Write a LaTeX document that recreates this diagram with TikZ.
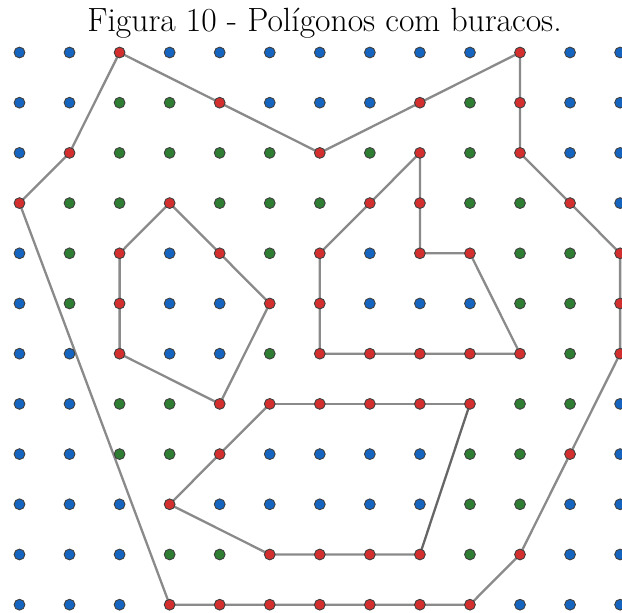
\documentclass[tikz,border=0pt]{standalone}
\usetikzlibrary{backgrounds}
\definecolor{dotB}{HTML}{1565C0}
\definecolor{dotG}{HTML}{2E7D32}
\definecolor{dotR}{HTML}{D32F2F}
\definecolor{edgegray}{HTML}{8A8A8A}
\definecolor{edgedark}{HTML}{666666}
\begin{document}
\begin{tikzpicture}[x=0.5pt,y=-0.5pt,
  dot/.style={circle,inner sep=0pt,minimum size=5.4pt,draw=black!75,line width=0.45pt},
  edge/.style={draw=edgegray,line width=1.15pt,line join=round},
  title/.style={font=\fontsize{16.8}{20}\selectfont,anchor=base,inner sep=0pt}]
\useasboundingbox (0,0) rectangle (622,613);
\node[title] (t) at (324.5,31.5) {Figura 10 - Polígonos com buracos.};
\foreach \r/\row in {
  0/{B,B,R,B,B,B,B,B,B,B,R,B,B},
  1/{B,B,G,G,R,B,B,B,R,G,R,B,B},
  2/{B,R,G,G,G,G,R,G,R,G,R,B,B},
  3/{R,G,G,R,G,G,G,R,R,G,G,R,B},
  4/{B,G,R,B,R,G,R,B,R,R,G,G,R},
  5/{B,G,R,B,B,R,R,B,B,B,G,G,R},
  6/{B,B,R,B,B,G,R,R,R,R,R,G,R},
  7/{B,B,G,G,R,R,R,R,R,R,G,G,B},
  8/{B,B,G,G,R,B,B,B,B,G,G,R,B},
  9/{B,B,B,R,B,B,B,B,B,G,G,B,B},
  10/{B,B,B,G,G,R,R,R,R,G,R,B,B},
  11/{B,B,B,R,R,R,R,R,R,R,B,B,B}}{
  \foreach \col [count=\c from 0] in \row {
    \node[dot,fill=dot\col] (d-\c-\r) at ({19.5+50.05*\c},{52.5+50.2*\r}) {};
  }
}
\begin{scope}[on background layer]
% outer polygon
\draw[edge] (d-2-0.center) -- (d-4-1.center) -- (d-6-2.center) -- (d-8-1.center)
  -- (d-10-0.center) -- (d-10-1.center) -- (d-10-2.center) -- (d-11-3.center)
  -- (d-12-4.center) -- (d-12-5.center) -- (d-12-6.center) -- (d-11-8.center)
  -- (d-10-10.center) -- (d-9-11.center) -- (d-8-11.center) -- (d-7-11.center)
  -- (d-6-11.center) -- (d-5-11.center) -- (d-4-11.center) -- (d-3-11.center)
  -- (d-0-3.center) -- (d-1-2.center) -- cycle;
% hole 1
\draw[edge] (d-3-3.center) -- (d-4-4.center) -- (d-5-5.center) -- (d-4-7.center)
  -- (d-2-6.center) -- (d-2-5.center) -- (d-2-4.center) -- cycle;
% hole 2
\draw[edge] (d-8-2.center) -- (d-8-3.center) -- (d-8-4.center) -- (d-9-4.center)
  -- (d-10-6.center) -- (d-9-6.center) -- (d-8-6.center) -- (d-7-6.center)
  -- (d-6-6.center) -- (d-6-5.center) -- (d-6-4.center) -- (d-7-3.center) -- cycle;
% hole 3
\draw[edge] (d-5-7.center) -- (d-6-7.center) -- (d-7-7.center) -- (d-8-7.center)
  -- (d-9-7.center);
\draw[edge,draw=edgedark] (d-9-7.center) -- (d-8-10.center);
\draw[edge] (d-8-10.center) -- (d-7-10.center) -- (d-6-10.center) -- (d-5-10.center)
  -- (d-3-9.center) -- (d-4-8.center) -- (d-5-7.center);
\end{scope}
\end{tikzpicture}
\end{document}
